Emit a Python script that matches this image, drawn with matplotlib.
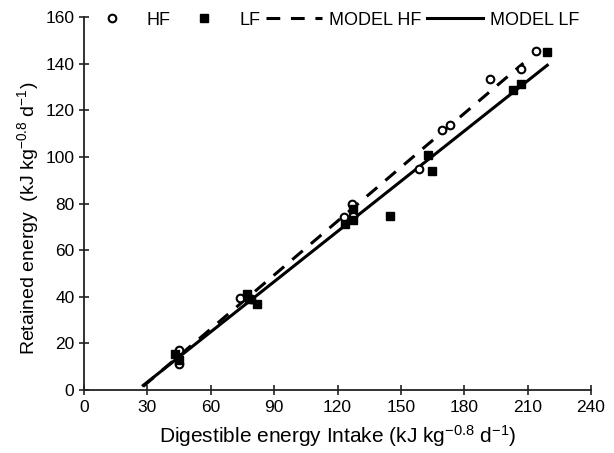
import numpy as np
import matplotlib.pyplot as plt

plt.rcParams['font.family'] = ['Liberation Sans', 'DejaVu Sans']
plt.rcParams['mathtext.default'] = 'regular'

# observed points, digestible energy intake vs retained energy
hf_x = [45, 45, 74, 79, 123, 126.7, 127.5, 158.5, 169.6, 173.2, 192, 207, 214]
hf_y = [17, 11, 39.3, 39, 74, 80, 74.5, 94.7, 111.4, 113.6, 133.6, 137.5, 145.5]
lf_x = [43, 45, 77, 78, 82, 123.5, 127.3, 127.3, 145, 162.7, 164.5, 203, 207, 219]
lf_y = [15.5, 13, 41, 39, 37, 71, 73, 77.5, 74.8, 101, 94, 128.6, 131.2, 145]

# fitted models (endpoints)
model_hf_x = [28, 208]
model_hf_y = [1.6, 140.2]
model_lf_x = [28, 219.3]
model_lf_y = [2.0, 139.3]

fig = plt.figure(figsize=(6.14, 4.53), dpi=100)
ax = fig.add_axes([0.137, 0.139, 0.8255, 0.8235])

ax.plot(hf_x, hf_y, 'o', mfc='white', mec='black', mew=1.5, ms=5.5, label='HF', zorder=3)
ax.plot(lf_x, lf_y, 's', color='black', ms=5.5, label='LF', zorder=3)
ax.plot(model_hf_x, model_hf_y, color='black', lw=2.2, dashes=(4.5, 3.5), label='MODEL HF')
ax.plot(model_lf_x, model_lf_y, color='black', lw=2.2, label='MODEL LF')

ax.set_xlim(0, 240)
ax.set_ylim(0, 160)
ax.set_xticks(np.arange(0, 241, 30))
ax.set_yticks(np.arange(0, 161, 20))
for s in ['top', 'right']:
    ax.spines[s].set_visible(False)
for s in ['left', 'bottom']:
    ax.spines[s].set_linewidth(1.3)
    ax.spines[s].set_color('#222222')
ax.tick_params(direction='inout', length=7, width=1.2, labelsize=12.5, color='#222222')

ax.set_xlabel('Digestible energy Intake (kJ kg$^{\u22120.8}$ d$^{\u22121}$)', fontsize=15, labelpad=6)
ax.set_ylabel('Retained energy  (kJ kg$^{\u22120.8}$ d$^{\u22121}$)', fontsize=14)
ax.yaxis.set_label_coords(-0.085, 0.46)

fig.legend(loc='upper left', bbox_to_anchor=(0.11, 1.01), ncol=4, frameon=False,
           fontsize=13, handlelength=3.1, columnspacing=0.3, handletextpad=0.4)

fig.savefig('out.png', dpi=100)
